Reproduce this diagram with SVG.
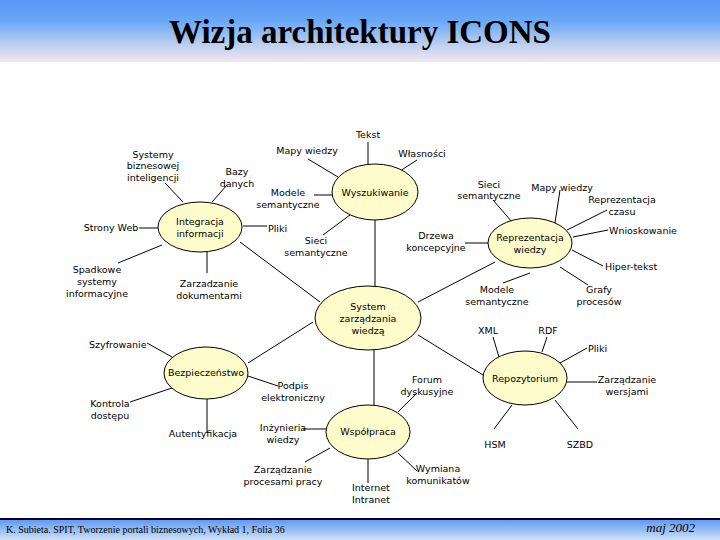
<svg xmlns="http://www.w3.org/2000/svg" width="720" height="540" viewBox="0 0 720 540">
<defs>
<linearGradient id="hdr" x1="0" y1="0" x2="0" y2="1">
<stop offset="0" stop-color="#5897f6"/>
<stop offset="0.35" stop-color="#6aa8f8"/>
<stop offset="0.7" stop-color="#b9cdee"/>
<stop offset="1" stop-color="#f3e6f2"/>
</linearGradient>
<linearGradient id="ftr" x1="0" y1="0" x2="0" y2="1">
<stop offset="0" stop-color="#5a98f2"/>
<stop offset="1" stop-color="#cfe0f7"/>
</linearGradient>
<style>
.n{fill:#fffccc;stroke:#000;stroke-width:1}
.c line{stroke:#000;stroke-width:1}
text{font-family:"DejaVu Sans","Liberation Sans",sans-serif;font-size:9.5px;fill:#000;text-anchor:middle}
.l{text-anchor:start}
</style>
</defs>
<rect x="0" y="0" width="720" height="62" fill="url(#hdr)"/>
<text x="360" y="43" style="font-family:'Liberation Serif',serif;font-size:33px;font-weight:bold">Wizja architektury ICONS</text>
<rect x="0" y="519" width="720" height="21" fill="url(#ftr)"/>
<rect x="0" y="518" width="720" height="2" fill="#000033"/>
<text x="6" y="533" class="l" style="font-family:'Liberation Serif',serif;font-size:10px">K. Subieta. SPIT, Tworzenie portali biznesowych, Wykład 1, Folia 36</text>
<text x="695" y="532" style="font-family:'Liberation Serif',serif;font-size:13px;font-style:italic;text-anchor:end">maj 2002</text>

<g class="c" id="connectors">
<line x1="165" y1="183" x2="183" y2="202"/>
<line x1="227" y1="185" x2="212" y2="202"/>
<line x1="139" y1="228" x2="158" y2="228"/>
<line x1="243" y1="226" x2="267" y2="226"/>
<line x1="162" y1="245" x2="118" y2="263"/>
<line x1="207" y1="252" x2="207" y2="273"/>
<line x1="240" y1="242" x2="320" y2="302"/>
<line x1="368" y1="142" x2="368" y2="165"/>
<line x1="308" y1="159" x2="338" y2="177"/>
<line x1="417" y1="160" x2="400" y2="171"/>
<line x1="314" y1="195" x2="332" y2="195"/>
<line x1="350" y1="215" x2="323" y2="235"/>
<line x1="375" y1="220" x2="375" y2="287"/>
<line x1="493" y1="200" x2="512" y2="222"/>
<line x1="560" y1="190" x2="555" y2="223"/>
<line x1="607" y1="210" x2="567" y2="230"/>
<line x1="573" y1="237" x2="608" y2="230"/>
<line x1="572" y1="250" x2="603" y2="266"/>
<line x1="465" y1="243" x2="488" y2="243"/>
<line x1="530" y1="273" x2="503" y2="283"/>
<line x1="560" y1="267" x2="588" y2="285"/>
<line x1="495" y1="262" x2="418" y2="302"/>
<line x1="313" y1="322" x2="248" y2="363"/>
<line x1="418" y1="335" x2="483" y2="375"/>
<line x1="374" y1="350" x2="374" y2="405"/>
<line x1="493" y1="337" x2="499" y2="357"/>
<line x1="547" y1="337" x2="542" y2="352"/>
<line x1="587" y1="348" x2="560" y2="363"/>
<line x1="567" y1="382" x2="597" y2="382"/>
<line x1="512" y1="405" x2="494" y2="429"/>
<line x1="555" y1="400" x2="578" y2="429"/>
<line x1="417" y1="393" x2="398" y2="412"/>
<line x1="303" y1="429" x2="326" y2="429"/>
<line x1="305" y1="462" x2="330" y2="448"/>
<line x1="368" y1="459" x2="368" y2="483"/>
<line x1="398" y1="453" x2="417" y2="471"/>
<line x1="147" y1="343" x2="172" y2="357"/>
<line x1="130" y1="402" x2="172" y2="388"/>
<line x1="207" y1="399" x2="207" y2="433"/>
<line x1="248" y1="376" x2="278" y2="386"/>
</g>

<g id="integracja"><ellipse class="n" cx="200" cy="227" rx="42" ry="25"/><text x="200" y="225">Integracja</text><text x="200" y="237">informacji</text></g>
<g id="wyszukiwanie"><ellipse class="n" cx="375" cy="192" rx="43" ry="28"/><text x="375" y="196">Wyszukiwanie</text></g>
<g id="reprezentacja"><ellipse class="n" cx="530" cy="243" rx="42" ry="25"/><text x="530" y="241">Reprezentacja</text><text x="530" y="253">wiedzy</text></g>
<g id="system"><ellipse class="n" cx="368" cy="318" rx="53" ry="32"/><text x="368" y="310">System</text><text x="368" y="322">zarządzania</text><text x="368" y="334">wiedzą</text></g>
<g id="bezpieczenstwo"><ellipse class="n" cx="206" cy="373" rx="42" ry="26"/><text x="206" y="376">Bezpieczeństwo</text></g>
<g id="repozytorium"><ellipse class="n" cx="525" cy="378" rx="42" ry="27"/><text x="525" y="382">Repozytorium</text></g>
<g id="wspolpraca"><ellipse class="n" cx="368" cy="432" rx="42" ry="27"/><text x="368" y="435">Współpraca</text></g>

<g id="labels">
<text x="153" y="158">Systemy</text><text x="153" y="169">biznesowej</text><text x="153" y="181">inteligencji</text>
<text x="237" y="175">Bazy</text><text x="237" y="187">danych</text>
<text x="111" y="231">Strony Web</text>
<text x="268" y="232" class="l">Pliki</text>
<text x="97" y="273">Spadkowe</text><text x="97" y="285">systemy</text><text x="97" y="297">informacyjne</text>
<text x="209" y="287">Zarzadzanie</text><text x="209" y="299">dokumentami</text>
<text x="368" y="138">Tekst</text>
<text x="307" y="154">Mapy wiedzy</text>
<text x="422" y="157">Własności</text>
<text x="288" y="196">Modele</text><text x="288" y="208">semantyczne</text>
<text x="316" y="244">Sieci</text><text x="316" y="256">semantyczne</text>
<text x="489" y="188">Sieci</text><text x="489" y="199">semantyczne</text>
<text x="562" y="191">Mapy wiedzy</text>
<text x="622" y="203">Reprezentacja</text><text x="622" y="215">czasu</text>
<text x="609" y="234" class="l">Wnioskowanie</text>
<text x="605" y="270" class="l">Hiper-tekst</text>
<text x="436" y="239">Drzewa</text><text x="436" y="251">koncepcyjne</text>
<text x="497" y="293">Modele</text><text x="497" y="305">semantyczne</text>
<text x="599" y="293">Grafy</text><text x="599" y="305">procesów</text>
<text x="488" y="334">XML</text>
<text x="548" y="334">RDF</text>
<text x="588" y="352" class="l">Pliki</text>
<text x="627" y="383">Zarządzanie</text><text x="627" y="395">wersjami</text>
<text x="495" y="448">HSM</text>
<text x="580" y="448">SZBD</text>
<text x="427" y="383">Forum</text><text x="427" y="395">dyskusyjne</text>
<text x="283" y="431">Inżynieria</text><text x="283" y="443">wiedzy</text>
<text x="283" y="473">Zarządzanie</text><text x="283" y="485">procesami pracy</text>
<text x="352" y="491" class="l">Internet</text><text x="352" y="503" class="l">Intranet</text>
<text x="438" y="472">Wymiana</text><text x="438" y="484">komunikatów</text>
<text x="89" y="348" class="l">Szyfrowanie</text>
<text x="110" y="407">Kontrola</text><text x="110" y="419">dostępu</text>
<text x="203" y="437">Autentyfikacja</text>
<text x="293" y="389">Podpis</text><text x="293" y="401">elektroniczny</text>
</g>
</svg>
